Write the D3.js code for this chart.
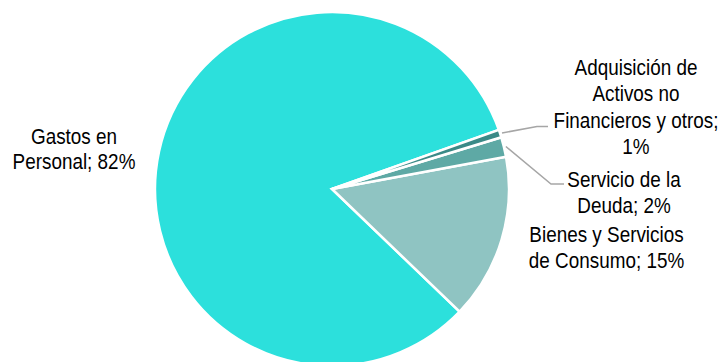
<!DOCTYPE html>
<html><head><meta charset="utf-8">
<script src="https://cdn.jsdelivr.net/npm/d3@7"></script>
<style>
html,body{margin:0;padding:0;background:#fff;}
svg{display:block;}
text{font-family:"Liberation Sans",Arial,sans-serif;fill:#000;}
</style></head>
<body><svg id="c" width="723" height="362"></svg>
<script>
const categories = ["Gastos en Personal", "Bienes y Servicios de Consumo", "Servicio de la Deuda", "Adquisición de Activos no Financieros y otros"];
const values = [82.4, 15.1, 1.8, 0.7];
const labelLines = [
  ["Gastos en", "Personal; 82%"],
  ["Bienes y Servicios", "de Consumo; 15%"],
  ["Servicio de la", "Deuda; 2%"],
  ["Adquisición de", "Activos no", "Financieros y otros;", "1%"]
];
const colors = ["#2CE0DC", "#8FC4C2", "#5EA9A5", "#3A8A87"];

const svg = d3.select("#c");
const cx = 332, cy = 189, r = 177;
const deg = Math.PI / 180;
const pie = d3.pie().value(d => d).sort(null)
  .startAngle(70.5 * deg).endAngle((70.5 - 360) * deg);
const arcs = pie(values);
const arc = d3.arc().innerRadius(0).outerRadius(r);

const g = svg.append("g").attr("transform", `translate(${cx},${cy})`);
g.selectAll("path").data(arcs).join("path")
  .attr("d", arc)
  .attr("fill", (d, i) => colors[i])
  .attr("stroke", "#fff").attr("stroke-width", 2.5).attr("stroke-linejoin", "miter");

// label layout (positions only)
const lab = [
  {x: 74, y: 144, lh: 25},
  {x: 606.5, y: 242, lh: 26.5},
  {x: 624, y: 187, lh: 26.5},
  {x: 636, y: 75, lh: 26.3}
];
const fs = 22.5, sx = 0.84;
labelLines.forEach((lines, i) => {
  const t = svg.append("g").attr("transform", `translate(${lab[i].x},${lab[i].y}) scale(${sx},1)`)
    .append("text").attr("text-anchor", "middle").attr("font-size", fs);
  lines.forEach((s, j) => {
    t.append("tspan").attr("x", 0).attr("y", j * lab[i].lh).text(s);
  });
});

// leader lines
function edge(i, extra) {
  const a = (arcs[i].startAngle + arcs[i].endAngle) / 2;
  return [cx + (r + extra) * Math.sin(a), cy - (r + extra) * Math.cos(a)];
}
const leaders = [
  {i: 3, pts: [[537, 126.5], [548, 126.5]]},
  {i: 2, pts: [[551, 184], [564, 184]]}
];
leaders.forEach(L => {
  const p0 = edge(L.i, 2);
  svg.append("path")
    .attr("d", d3.line()([p0, ...L.pts]))
    .attr("fill", "none").attr("stroke", "#A6A6A6").attr("stroke-width", 1.5);
});
</script></body></html>
